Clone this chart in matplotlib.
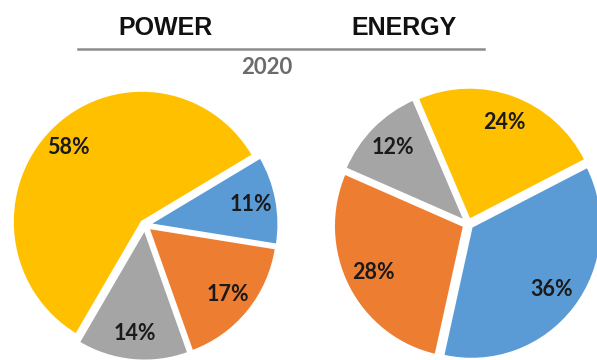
import matplotlib
matplotlib.use('Agg')
import matplotlib.pyplot as plt

# pie data (clockwise order: blue, orange, gray, yellow)
power_values = [11, 17, 14, 58]
energy_values = [36, 28, 12, 24]
colors = ['#5B9BD5', '#ED7D31', '#A5A5A5', '#FFC000']

headings = ['POWER', 'ENERGY']
year = '2020'

W, H = 597, 360
fig = plt.figure(figsize=(W / 100, H / 100), dpi=100)
fig.patch.set_facecolor('white')

LIM = 1.15


def pie_axes(cx, cy, rx, ry):
    # cx, cy in pixels from top-left; rx, ry = pie radii in pixels
    hx, hy = rx * LIM, ry * LIM
    return fig.add_axes([(cx - hx) / W, (H - cy - hy) / H, 2 * hx / W, 2 * hy / H])


def draw_pie(ax, values, start, pctd):
    wedges, texts, autotexts = ax.pie(
        values, colors=colors, startangle=start, counterclock=False,
        explode=[0.035] * len(values), radius=1.0,
        autopct='%d%%', pctdistance=pctd,
        wedgeprops=dict(edgecolor='white', linewidth=1.5),
        textprops=dict(fontsize=15.5, fontweight='bold', color='#1a1a1a', family='Lato'))
    # pie() resets the limits, so set them afterwards
    ax.set_xlim(-LIM, LIM)
    ax.set_ylim(-LIM, LIM)
    ax.set_aspect('auto')
    ax.axis('off')
    return autotexts


ax1 = pie_axes(145, 225, 129, 131)
draw_pie(ax1, power_values, 30.6, 0.8)

ax2 = pie_axes(468, 224, 130, 132)
draw_pie(ax2, energy_values, 27, 0.78)

# headings, rule and year
fig.text(166 / W, 1 - 28 / H, headings[0], ha='center', va='center',
         fontsize=18, fontweight='bold', family='Liberation Sans', color='#111111')
fig.text(404 / W, 1 - 28 / H, headings[1], ha='center', va='center',
         fontsize=18, fontweight='bold', family='Liberation Sans', color='#111111')
fig.add_artist(plt.Line2D([78 / W, 484 / W], [1 - 49 / H, 1 - 49 / H],
                          color='#8c8c8c', linewidth=1.8))
fig.text(267 / W, 1 - 67 / H, year, ha='center', va='center',
         fontsize=16, fontweight='bold', family='Lato', color='#6b6b6b')

fig.savefig('out.png', dpi=100, facecolor='white')
